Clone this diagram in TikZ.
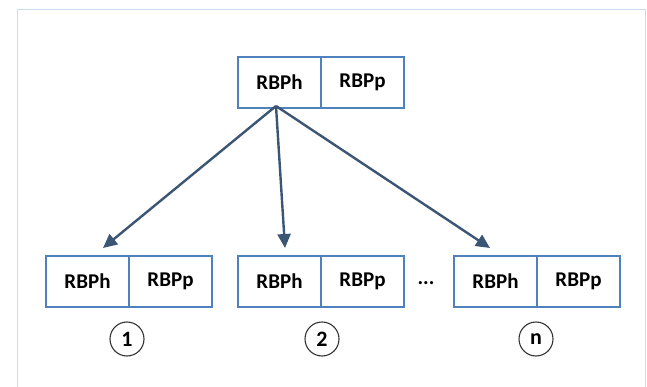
\documentclass[tikz,border=0pt]{standalone}
\usepackage{fontspec}
\setmainfont{Carlito}
\usetikzlibrary{positioning,arrows.meta}
\definecolor{boxblue}{RGB}{79,129,189}
\definecolor{arrowblue}{RGB}{59,86,117}
\definecolor{framelight}{RGB}{205,219,240}

\begin{document}
\begin{tikzpicture}[x=1pt,y=-1pt,
    cell/.style={draw=boxblue, line width=1.5pt, minimum width=83pt, minimum height=51pt,
        inner sep=0pt, outer sep=0pt, font=\bfseries\fontsize{21}{25}\selectfont},
    num/.style={draw=black!80, circle, line width=1.1pt, minimum size=34pt,
        inner sep=0pt, font=\bfseries\fontsize{22}{26}\selectfont},
    link/.style={-{Triangle[length=14pt,width=13pt]}, arrowblue, line width=2.4pt}]
    \useasboundingbox (0,0) rectangle (647,387);

    % Frame
    \draw [framelight, line width=1pt] (17,387) -- (17,10) -- (645,10) -- (645,387);

    % Root block
    \node [cell] (rh) at (279.5,82.5) {RBPh};
    \node [cell, right=0pt of rh] (rp) {RBPp};
    \coordinate (root) at (276,106);

    % Child blocks
    \node [cell] (ah) at (87.5,281.5) {RBPh};
    \node [cell, right=0pt of ah] (ap) {RBPp};
    \node [cell] (bh) at (279.5,281.5) {RBPh};
    \node [cell, right=0pt of bh] (bp) {RBPp};
    \node [cell] (nh) at (495.5,281.5) {RBPh};
    \node [cell, right=0pt of nh] (np) {RBPp};
    \node [font=\bfseries\fontsize{21}{25}\selectfont] (dots) at (426,283) {...};

    % Arrow tips
    \coordinate (ta) at (103,248);
    \coordinate (tb) at (285,248);
    \coordinate (tn) at (490,248);
    \draw [link] (root) -- (ta);
    \draw [link] (root) -- (tb);
    \draw [link] (root) -- (tn);

    % Numbers
    \node [num] (na) at (127,339) {1};
    \node [num] (nb) at (322,339) {2};
    \node [num] (nn) at (536,339) {n};
\end{tikzpicture}
\end{document}
